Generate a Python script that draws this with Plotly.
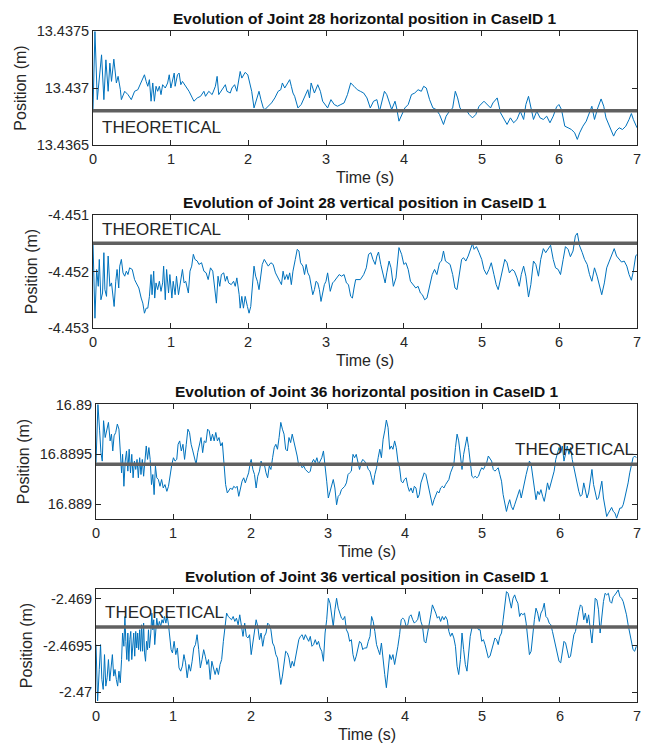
import plotly.graph_objects as go

# ---------------- DATA ----------------
TITLES = [
    "Evolution of Joint 28 horizontal position in CaseID 1",
    "Evolution of Joint 28 vertical position in CaseID 1",
    "Evolution of Joint 36 horizontal position in CaseID 1",
    "Evolution of Joint 36 vertical position in CaseID 1",
]
THEORETICAL = [13.4368, -4.4515, 16.8894, -2.469301]
THEO_LABEL = "THEORETICAL"
X_TICKS = [0, 1, 2, 3, 4, 5, 6, 7]
Y_TICKS = [[13.4365, 13.437, 13.4375], [-4.453, -4.452, -4.451],
           [16.889, 16.8895, 16.89], [-2.47, -2.4695, -2.469]]
Y_TICKTEXT = [["13.4365", "13.437", "13.4375"], ["-4.453", "-4.452", "-4.451"],
              ["16.889", "16.8895", "16.89"], ["-2.47", "-2.4695", "-2.469"]]
Y_RANGES = [[13.4365, 13.4375], [-4.453, -4.451],
            [16.88885, 16.890006], [-2.470103, -2.468894]]

# Joint 28 horizontal
T_J28H = [0.000, 0.025, 0.055, 0.110, 0.140, 0.166, 0.195, 0.217, 0.238, 0.268, 0.301, 0.323, 0.352, 0.365, 0.408,
          0.450, 0.493, 0.535, 0.577, 0.620, 0.662, 0.684, 0.705, 0.726, 0.747, 0.769, 0.790, 0.811, 0.832, 0.854,
          0.875, 0.896, 0.930, 0.960, 0.981, 1.002, 1.045, 1.057, 1.087, 1.108, 1.130, 1.151, 1.193, 1.236, 1.278,
          1.299, 1.342, 1.384, 1.427, 1.448, 1.490, 1.533, 1.575, 1.597, 1.618, 1.660, 1.703, 1.724, 1.766, 1.788,
          1.822, 1.851, 1.894, 1.915, 1.958, 1.992, 2.021, 2.042, 2.072, 2.106, 2.136, 2.161, 2.191, 2.212, 2.255,
          2.297, 2.340, 2.382, 2.416, 2.437, 2.467, 2.531, 2.552, 2.573, 2.595, 2.637, 2.679, 2.722, 2.764, 2.786,
          2.807, 2.849, 2.892, 2.926, 2.955, 3.019, 3.062, 3.104, 3.146, 3.189, 3.231, 3.274, 3.316, 3.359, 3.401,
          3.440, 3.483, 3.525, 3.568, 3.610, 3.653, 3.687, 3.716, 3.750, 3.780, 3.822, 3.843, 3.886, 3.907, 3.937,
          3.971, 4.013, 4.056, 4.098, 4.140, 4.183, 4.225, 4.255, 4.289, 4.331, 4.374, 4.416, 4.459, 4.510, 4.544,
          4.586, 4.628, 4.662, 4.692, 4.722, 4.756, 4.798, 4.841, 4.883, 4.925, 4.968, 5.031, 5.074, 5.116, 5.146,
          5.201, 5.244, 5.286, 5.328, 5.371, 5.413, 5.456, 5.498, 5.541, 5.570, 5.604, 5.638, 5.668, 5.710, 5.753,
          5.795, 5.838, 5.880, 5.922, 5.965, 5.995, 6.028, 6.071, 6.113, 6.156, 6.198, 6.232, 6.262, 6.304, 6.347,
          6.389, 6.419, 6.453, 6.495, 6.538, 6.572, 6.601, 6.644, 6.699, 6.729, 6.771, 6.813, 6.856, 6.898, 6.928,
          6.953, 7.000]
V_J28H = [13.436811, 13.437495, 13.436898, 13.437291, 13.436898, 13.437247, 13.436971, 13.437218, 13.437058,
          13.437253, 13.437044, 13.437102, 13.436985, 13.436898, 13.436971, 13.436942, 13.436898, 13.436971,
          13.436985, 13.437044, 13.437116, 13.437058, 13.437015, 13.437073, 13.436884, 13.437044, 13.436884,
          13.437015, 13.436971, 13.437015, 13.436942, 13.437029, 13.437000, 13.437044, 13.437116, 13.437000,
          13.437131, 13.437015, 13.437116, 13.437131, 13.437029, 13.437058, 13.437015, 13.436971, 13.436913,
          13.436884, 13.436913, 13.436927, 13.436971, 13.436927, 13.436971, 13.436942, 13.437015, 13.437102,
          13.436942, 13.436985, 13.437029, 13.436971, 13.436956, 13.437000, 13.437029, 13.436971, 13.437145,
          13.437087, 13.437137, 13.437116, 13.437044, 13.436971, 13.436825, 13.436898, 13.436971, 13.436898,
          13.436825, 13.436811, 13.436840, 13.436869, 13.436913, 13.436971, 13.436985, 13.437044, 13.437000,
          13.437073, 13.437015, 13.436956, 13.436927, 13.436825, 13.436855, 13.436927, 13.436985, 13.436913,
          13.437044, 13.436956, 13.437029, 13.436971, 13.436884, 13.436825, 13.436898, 13.436855, 13.436840,
          13.436855, 13.436869, 13.436942, 13.437044, 13.437015, 13.436985,
          13.436971, 13.436956, 13.436913, 13.436825, 13.436884, 13.436898, 13.436796, 13.436869, 13.436971,
          13.436942, 13.436855, 13.436811, 13.436884, 13.436825, 13.436709, 13.436767, 13.436825, 13.436855,
          13.436942, 13.436956, 13.436985, 13.436971, 13.437015, 13.437000, 13.436898, 13.436825, 13.436811,
          13.436767, 13.436680, 13.436753, 13.436796, 13.436825, 13.436971, 13.436913, 13.436825, 13.436796,
          13.436811, 13.436767, 13.436738, 13.436767, 13.436840, 13.436884, 13.436855, 13.436825, 13.436869,
          13.436913, 13.436782, 13.436724, 13.436680, 13.436738, 13.436695, 13.436724, 13.436796, 13.436724,
          13.436855, 13.436927, 13.436811, 13.436724, 13.436796, 13.436738, 13.436724, 13.436753, 13.436695,
          13.436753, 13.436834, 13.436855, 13.436811, 13.436665, 13.436651, 13.436636, 13.436607, 13.436549,
          13.436607, 13.436665, 13.436709, 13.436796, 13.436840, 13.436724, 13.436825, 13.436904, 13.436840,
          13.436738, 13.436665, 13.436578, 13.436622, 13.436651, 13.436636, 13.436665, 13.436724, 13.436776,
          13.436724, 13.436651]

# Joint 28 vertical
T_J28V = [0.000, 0.025, 0.047, 0.068, 0.081, 0.102, 0.123, 0.140, 0.153, 0.174, 0.195, 0.217, 0.238, 0.251, 0.272,
          0.293, 0.310, 0.331, 0.344, 0.365, 0.386, 0.408, 0.429, 0.450, 0.471, 0.505, 0.535, 0.556, 0.590, 0.620,
          0.641, 0.662, 0.684, 0.705, 0.726, 0.747, 0.760, 0.781, 0.794, 0.811, 0.832, 0.854, 0.875, 0.896, 0.909,
          0.930, 0.947, 0.972, 0.989, 1.015, 1.032, 1.057, 1.074, 1.100, 1.130, 1.151, 1.172, 1.193, 1.227, 1.248,
          1.270, 1.291, 1.312, 1.342, 1.363, 1.397, 1.427, 1.456, 1.482, 1.512, 1.541, 1.567, 1.588, 1.609, 1.631,
          1.652, 1.682, 1.703, 1.724, 1.745, 1.779, 1.809, 1.830, 1.851, 1.881, 1.894, 1.915, 1.936, 1.958, 1.987,
          2.008, 2.030, 2.051, 2.072, 2.093, 2.115, 2.136, 2.157, 2.178, 2.204, 2.234, 2.255, 2.289, 2.318, 2.348,
          2.374, 2.403, 2.425, 2.446, 2.467, 2.493, 2.510, 2.531, 2.552, 2.573, 2.603, 2.628, 2.650, 2.671, 2.701,
          2.722, 2.743, 2.764, 2.786, 2.807, 2.828, 2.849, 2.870, 2.892, 2.913, 2.934, 2.955, 2.977, 2.998, 3.019,
          3.053, 3.083, 3.104, 3.138, 3.168, 3.198, 3.231, 3.261, 3.287, 3.316, 3.338, 3.359, 3.380, 3.410,
          3.440, 3.483, 3.517, 3.546, 3.576, 3.602, 3.631, 3.653, 3.674, 3.703, 3.729, 3.759, 3.780, 3.810, 3.835,
          3.865, 3.899, 3.937, 3.971, 4.000, 4.026, 4.056, 4.085, 4.119, 4.153, 4.183, 4.213, 4.238, 4.268, 4.297,
          4.331, 4.365, 4.395, 4.425, 4.459, 4.484, 4.510, 4.535, 4.565, 4.595, 4.628, 4.658, 4.684, 4.713, 4.743,
          4.768, 4.798, 4.828, 4.853, 4.883, 4.904, 4.934, 4.968, 5.002, 5.031, 5.065, 5.095, 5.125, 5.159, 5.188,
          5.214, 5.244, 5.273, 5.299, 5.328, 5.358, 5.392, 5.422, 5.456, 5.485, 5.511, 5.541, 5.570, 5.604, 5.634,
          5.668, 5.698, 5.732, 5.761, 5.795, 5.825, 5.859, 5.888, 5.922, 5.952, 5.986, 6.016, 6.050, 6.079, 6.113,
          6.143, 6.177, 6.207, 6.232, 6.262, 6.296, 6.325, 6.359, 6.389, 6.419, 6.453, 6.487, 6.516, 6.546, 6.580,
          6.610, 6.644, 6.673, 6.707, 6.737, 6.771, 6.801, 6.835, 6.869, 6.898, 6.928, 6.953, 6.983, 7.000]
V_J28V = [-4.451488, -4.452827, -4.451964, -4.452262, -4.451786, -4.452500, -4.452381, -4.451667, -4.452321,
          -4.452440, -4.451726, -4.452262, -4.452202, -4.452381, -4.452619, -4.452173, -4.451964, -4.452292,
          -4.451905, -4.451786, -4.452024, -4.452083, -4.451994, -4.452054, -4.451935, -4.451964, -4.452143,
          -4.452202, -4.452292, -4.452470, -4.452560, -4.452738, -4.452649, -4.452649, -4.452440, -4.452054,
          -4.452411, -4.451994, -4.452470, -4.452202, -4.452321, -4.452173, -4.452351, -4.452202, -4.451905,
          -4.452500, -4.451964, -4.452381, -4.452054, -4.452470, -4.452173, -4.452411, -4.452083, -4.452411,
          -4.452173, -4.451964, -4.452202, -4.452173, -4.452381, -4.451994, -4.451905, -4.451696, -4.451786,
          -4.451815, -4.451875, -4.451845, -4.451994, -4.452024, -4.452143, -4.451935, -4.451994, -4.452262,
          -4.452560, -4.452083, -4.452262, -4.452054, -4.452024, -4.452173, -4.452083, -4.452202, -4.452232,
          -4.452173, -4.452262, -4.452113, -4.452411, -4.452649, -4.452440, -4.452649, -4.452440, -4.452619,
          -4.452738, -4.452619, -4.452292, -4.451905, -4.452083, -4.452173, -4.452321, -4.452054, -4.451875,
          -4.451786, -4.451845, -4.451905, -4.451845, -4.451875, -4.452024, -4.452083, -4.452173, -4.452232,
          -4.451994, -4.452143, -4.452054, -4.452143, -4.452024, -4.452232, -4.451994, -4.451786, -4.451607,
          -4.451637, -4.451845, -4.451905, -4.452054, -4.451875, -4.452024, -4.452083, -4.452262, -4.452411,
          -4.452321, -4.452173, -4.452202, -4.452321, -4.452530, -4.452411, -4.452232, -4.452173, -4.452024,
          -4.452351, -4.452202, -4.452173, -4.452113, -4.452054, -4.452083, -4.452054, -4.452202, -4.452232,
          -4.452440, -4.452470, -4.452292, -4.452143, -4.452143,
          -4.452143, -4.452054, -4.451935, -4.451696, -4.451667, -4.451786, -4.451875, -4.451726, -4.451655,
          -4.451875, -4.452024, -4.452202, -4.452024, -4.451815, -4.451935, -4.452262, -4.452113, -4.451577,
          -4.451696, -4.451875, -4.451845, -4.451964, -4.452173, -4.452232, -4.452292, -4.452262, -4.452381,
          -4.452411, -4.452500, -4.452470, -4.452262, -4.452054, -4.451964, -4.452054, -4.451845, -4.451815,
          -4.451637, -4.451815, -4.451845, -4.451875, -4.452054, -4.452292, -4.452321, -4.452024, -4.451786,
          -4.451756, -4.451815, -4.451726, -4.451607, -4.451506, -4.451607, -4.451560, -4.451667, -4.451786,
          -4.451964, -4.452054, -4.451964, -4.451845, -4.452054, -4.452232, -4.452321, -4.452143, -4.451935,
          -4.451786, -4.451845, -4.452024, -4.451964, -4.451994, -4.452113, -4.452262, -4.452054, -4.451905,
          -4.452083, -4.452452, -4.452232, -4.451815, -4.451875, -4.452083, -4.451786, -4.451595, -4.451667,
          -4.451595, -4.451536, -4.451786, -4.451935, -4.451964, -4.452054, -4.451786, -4.451560, -4.451607,
          -4.451738, -4.451637, -4.451369, -4.451321, -4.451548, -4.451667, -4.451786, -4.451875, -4.452054,
          -4.452173, -4.451935, -4.452083, -4.452262, -4.452411, -4.452202, -4.451935, -4.451815, -4.451696,
          -4.451595, -4.451726, -4.451786, -4.451833, -4.451815, -4.451905, -4.452054, -4.452155, -4.451994,
          -4.451726, -4.451696]

# Joint 36 horizontal: first part
T_J36H_A = [0.000, 0.025, 0.047, 0.064, 0.081, 0.098, 0.119, 0.140, 0.161, 0.183, 0.200, 0.217, 0.234, 0.255,
            0.276, 0.297, 0.318, 0.331, 0.344, 0.361, 0.378, 0.395, 0.412, 0.429, 0.446, 0.463, 0.480, 0.497,
            0.514, 0.531, 0.548, 0.565, 0.582, 0.599, 0.616, 0.637, 0.650, 0.667, 0.684, 0.701, 0.718, 0.735,
            0.752, 0.769, 0.786, 0.807, 0.828, 0.849, 0.870, 0.892, 0.917, 0.938, 0.960, 0.981, 1.002, 1.023,
            1.045, 1.062, 1.083, 1.104, 1.125, 1.146, 1.168, 1.189, 1.210, 1.231, 1.253, 1.274, 1.295, 1.316,
            1.338, 1.359, 1.380, 1.401, 1.423, 1.444, 1.465, 1.486, 1.507, 1.529, 1.550, 1.571, 1.592, 1.614,
            1.635, 1.656, 1.677, 1.699, 1.720, 1.741, 1.762, 1.783, 1.805, 1.826, 1.847, 1.868, 1.890, 1.911,
            1.932, 1.953, 1.975, 1.996, 2.008, 2.030, 2.051, 2.072, 2.093, 2.115, 2.136, 2.157, 2.178, 2.200,
            2.221, 2.242, 2.263, 2.285, 2.306, 2.327, 2.348, 2.369, 2.391, 2.412, 2.433, 2.454, 2.476, 2.497,
            2.518, 2.539, 2.561, 2.582, 2.603, 2.624, 2.645, 2.667, 2.688, 2.709, 2.730, 2.752, 2.773, 2.794,
            2.815, 2.837, 2.858, 2.879, 2.900, 2.921, 2.943, 2.964, 2.985, 3.006, 3.028, 3.049, 3.070, 3.091,
            3.113, 3.134, 3.155, 3.176, 3.197, 3.219, 3.240, 3.261, 3.282, 3.304, 3.325, 3.346, 3.367, 3.389,
            3.410, 3.431, 3.452, 3.473]
V_J36H_A = [16.889416, 16.890000, 16.889736, 16.889517, 16.889432, 16.889838, 16.889669, 16.889736, 16.889821,
            16.889635, 16.889703, 16.889534, 16.889686, 16.889720, 16.889804, 16.889753, 16.889500, 16.889314,
            16.889500, 16.889179, 16.889432, 16.889534, 16.889331, 16.889551, 16.889314, 16.889500, 16.889264,
            16.889432, 16.889348, 16.889449, 16.889264, 16.889466, 16.889297, 16.889449, 16.889280, 16.889483,
            16.889584, 16.889449, 16.889568, 16.889449, 16.889196, 16.889297, 16.889095, 16.889382, 16.889264,
            16.889247, 16.889179, 16.889247, 16.889162, 16.889196, 16.889128, 16.889179, 16.889314, 16.889399,
            16.889466, 16.889432, 16.889449, 16.889601, 16.889635, 16.889534, 16.889601, 16.889449, 16.889601,
            16.889753, 16.889720, 16.889601, 16.889534, 16.889449, 16.889399, 16.889517, 16.889601, 16.889669,
            16.889517, 16.889635, 16.889618, 16.889753, 16.889736, 16.889635, 16.889703, 16.889635, 16.889720,
            16.889635, 16.889669, 16.889584, 16.889618, 16.889399, 16.889196, 16.889112, 16.889145, 16.889162,
            16.889145, 16.889179, 16.889162, 16.889179, 16.889078, 16.889162, 16.889230, 16.889264, 16.889213,
            16.889264, 16.889314, 16.889416, 16.889449, 16.889348, 16.889297, 16.889162, 16.889280, 16.889331,
            16.889432, 16.889382, 16.889399, 16.889314, 16.889264, 16.889382, 16.889348, 16.889466, 16.889568,
            16.889601, 16.889551, 16.889669, 16.889821, 16.889753, 16.889703, 16.889551, 16.889534, 16.889669,
            16.889618, 16.889703, 16.889635, 16.889568, 16.889483, 16.889382, 16.889416, 16.889365, 16.889382,
            16.889348, 16.889331, 16.889314, 16.889331, 16.889416, 16.889449, 16.889416, 16.889466, 16.889399,
            16.889432, 16.889466, 16.889534, 16.889399, 16.889230, 16.889061, 16.889128, 16.889196, 16.889247,
            16.889162, 16.888993, 16.889078, 16.889095, 16.889145, 16.889162, 16.889179, 16.889213, 16.889297,
            16.889314, 16.889331, 16.889500, 16.889466, 16.889500, 16.889399, 16.889348, 16.889416, 16.889449,
            16.889432]

# shared sample times of the second part (3.5 s - 7 s) of both Joint 36 series
T_J36_B = [3.502, 3.523, 3.545, 3.566, 3.587, 3.608, 3.630, 3.651, 3.672, 3.693, 3.715, 3.736, 3.757, 3.779,
           3.800, 3.821, 3.842, 3.864, 3.885, 3.906, 3.928, 3.949, 3.970, 3.991, 4.013, 4.034, 4.055, 4.076,
           4.098, 4.119, 4.140, 4.162, 4.183, 4.204, 4.225, 4.247, 4.268, 4.289, 4.311, 4.332, 4.353, 4.374,
           4.396, 4.417, 4.438, 4.459, 4.481, 4.502, 4.523, 4.545, 4.566, 4.587, 4.608, 4.630, 4.651, 4.672,
           4.693, 4.715, 4.736, 4.757, 4.779, 4.800, 4.821, 4.842, 4.864, 4.885, 4.906, 4.928, 4.949, 4.970,
           4.991, 5.013, 5.034, 5.055, 5.076, 5.098, 5.119, 5.140, 5.162, 5.183, 5.204, 5.225, 5.247, 5.268,
           5.289, 5.311, 5.332, 5.353, 5.374, 5.396, 5.417, 5.438, 5.459, 5.481, 5.502, 5.523, 5.545, 5.566,
           5.587, 5.608, 5.630, 5.651, 5.672, 5.693, 5.715, 5.736, 5.757, 5.779, 5.800, 5.821, 5.842, 5.864,
           5.885, 5.906, 5.928, 5.949, 5.970, 5.991, 6.013, 6.034, 6.055, 6.076, 6.098, 6.119, 6.140, 6.162,
           6.183, 6.204, 6.225, 6.247, 6.268, 6.289, 6.311, 6.332, 6.353, 6.374, 6.396, 6.417, 6.438, 6.459,
           6.481, 6.502, 6.523, 6.545, 6.566, 6.587, 6.608, 6.630, 6.651, 6.672, 6.693, 6.715, 6.736, 6.757,
           6.779, 6.800, 6.821, 6.842, 6.864, 6.885, 6.906, 6.928, 6.949, 6.970, 6.991]
V_J36H_B = [16.889399, 16.889348, 16.889331, 16.889264, 16.889196, 16.889297, 16.889365, 16.889466, 16.889551,
            16.889466, 16.889652, 16.889736, 16.889845, 16.889770, 16.889551, 16.889584, 16.889551, 16.889635,
            16.889568, 16.889432, 16.889365, 16.889230, 16.889213, 16.889247, 16.889264, 16.889179, 16.889128,
            16.889162, 16.889112, 16.889179, 16.889162, 16.889061, 16.889095, 16.889213, 16.889264, 16.889314,
            16.889297, 16.889213, 16.889145, 16.889044, 16.888987, 16.889044, 16.889095, 16.889128, 16.889112,
            16.889162, 16.889179, 16.889162, 16.889196, 16.889230, 16.889247, 16.889314, 16.889348, 16.889399,
            16.889568, 16.889703, 16.889635, 16.889483, 16.889348, 16.889500, 16.889601, 16.889676, 16.889568,
            16.889399, 16.889280, 16.889264, 16.889280, 16.889264, 16.889280, 16.889331, 16.889365, 16.889348,
            16.889382, 16.889416, 16.889483, 16.889449, 16.889432, 16.889348, 16.889331, 16.889348, 16.889365,
            16.889297, 16.889230, 16.889095, 16.888993, 16.888926, 16.888993, 16.889044, 16.888976, 16.888943,
            16.888993, 16.889044, 16.889095, 16.889145, 16.889061, 16.889128, 16.889230, 16.889297, 16.889365,
            16.889432, 16.889399, 16.889297, 16.889162, 16.889044, 16.889128, 16.889095, 16.889145, 16.889078,
            16.889027, 16.889112, 16.889213, 16.889145, 16.889213, 16.889264, 16.889331, 16.889449, 16.889500,
            16.889568, 16.889517, 16.889584, 16.889432, 16.889517, 16.889584, 16.889500, 16.889568, 16.889449,
            16.889365, 16.889280, 16.889213, 16.889128, 16.889078, 16.889095, 16.889213, 16.889128, 16.889061,
            16.889112, 16.889264, 16.889348, 16.889196, 16.889112, 16.889044, 16.889061, 16.889162, 16.889230,
            16.889061, 16.888943, 16.888875, 16.888909, 16.888943, 16.888966, 16.888926, 16.888909, 16.888858,
            16.888909, 16.888960, 16.888960, 16.888993, 16.889061, 16.889128, 16.889213, 16.889314, 16.889399,
            16.889466, 16.889483, 16.889466]

# Joint 36 vertical: first part
T_J36V_A = [0.000, 0.021, 0.042, 0.059, 0.076, 0.093, 0.110, 0.127, 0.144, 0.161, 0.178, 0.195, 0.212, 0.229,
            0.246, 0.263, 0.280, 0.297, 0.314, 0.331, 0.344, 0.361, 0.374, 0.386, 0.399, 0.412, 0.425, 0.437,
            0.450, 0.463, 0.476, 0.488, 0.501, 0.514, 0.527, 0.539, 0.552, 0.565, 0.577, 0.590, 0.603, 0.616,
            0.628, 0.641, 0.654, 0.667, 0.679, 0.692, 0.709, 0.722, 0.735, 0.747, 0.760, 0.773, 0.786, 0.803,
            0.820, 0.837, 0.854, 0.870, 0.887, 0.904, 0.921, 0.938, 0.955, 0.972, 0.989, 1.011, 1.032, 1.053,
            1.074, 1.096, 1.117, 1.138, 1.159, 1.180, 1.202, 1.223, 1.244, 1.265, 1.287, 1.308, 1.329, 1.350,
            1.372, 1.393, 1.414, 1.435, 1.456, 1.478, 1.499, 1.520, 1.541, 1.563, 1.584, 1.605, 1.626, 1.648,
            1.669, 1.690, 1.711, 1.732, 1.754, 1.775, 1.796, 1.817, 1.839, 1.860, 1.881, 1.902, 1.924, 1.945,
            1.966, 1.987, 2.008, 2.030, 2.051, 2.072, 2.093, 2.115, 2.136, 2.157, 2.178, 2.200, 2.221, 2.242,
            2.263, 2.285, 2.306, 2.327, 2.348, 2.369, 2.391, 2.412, 2.433, 2.454, 2.476, 2.497, 2.518, 2.539,
            2.561, 2.582, 2.603, 2.624, 2.645, 2.667, 2.688, 2.709, 2.730, 2.752, 2.773, 2.794, 2.815, 2.837,
            2.858, 2.879, 2.900, 2.921, 2.943, 2.964, 2.985, 3.006, 3.028, 3.049, 3.070, 3.091, 3.113, 3.134,
            3.155, 3.176, 3.197, 3.219, 3.240, 3.261, 3.282, 3.304, 3.325, 3.346, 3.367, 3.389, 3.410, 3.431,
            3.452, 3.473]
V_J36V_A = [-2.469489, -2.470092, -2.469755, -2.469489, -2.469862, -2.469968, -2.469596, -2.469933, -2.469844,
            -2.469649, -2.469879, -2.469720, -2.469596, -2.469826, -2.469755, -2.469862, -2.469933, -2.469773,
            -2.469897, -2.469649, -2.469365, -2.469507, -2.469188, -2.469454, -2.469649, -2.469365, -2.469667,
            -2.469436, -2.469348, -2.469649, -2.469454, -2.469365, -2.469613, -2.469348, -2.469525, -2.469365,
            -2.469543, -2.469330, -2.469560, -2.469277, -2.469560, -2.469259, -2.469578, -2.469667, -2.469454,
            -2.469543, -2.469330, -2.469525, -2.469365, -2.469152, -2.469330, -2.469223, -2.469489, -2.469330,
            -2.469206, -2.469312, -2.469241, -2.469294, -2.469223, -2.469259, -2.469188, -2.469259, -2.469181,
            -2.469277, -2.469418, -2.469543, -2.469578, -2.469454, -2.469596, -2.469525, -2.469738, -2.469773,
            -2.469720, -2.469596, -2.469684, -2.469844, -2.469702, -2.469773, -2.469667, -2.469525, -2.469489,
            -2.469383, -2.469543, -2.469738, -2.469649, -2.469543, -2.469613, -2.469702, -2.469649, -2.469862,
            -2.469667, -2.469755, -2.469809, -2.469738, -2.469809, -2.469702, -2.469649, -2.469454, -2.469294,
            -2.469152, -2.469188, -2.469206, -2.469223, -2.469188, -2.469241, -2.469206, -2.469277, -2.469170,
            -2.469294, -2.469401, -2.469259, -2.469401, -2.469418, -2.469383, -2.469596, -2.469472, -2.469312,
            -2.469223, -2.469294, -2.469436, -2.469365, -2.469507, -2.469401, -2.469365, -2.469259, -2.469277,
            -2.469330, -2.469472, -2.469507, -2.469596, -2.469631, -2.469755, -2.469915, -2.469826, -2.469702,
            -2.469560, -2.469578, -2.469631, -2.469738, -2.469667, -2.469720, -2.469631, -2.469543, -2.469436,
            -2.469401, -2.469383, -2.469436, -2.469383, -2.469418, -2.469454, -2.469401, -2.469507, -2.469489,
            -2.469436, -2.469489, -2.469454, -2.469525, -2.469560, -2.469667, -2.469365, -2.469223, -2.468993,
            -2.469046, -2.469170, -2.469294, -2.469117, -2.468993, -2.469099, -2.469152, -2.469206, -2.469223,
            -2.469188, -2.469330, -2.469365, -2.469454, -2.469436, -2.469596, -2.469667, -2.469613, -2.469543,
            -2.469454, -2.469472, -2.469543, -2.469525]
V_J36V_B = [-2.469525, -2.469454, -2.469401, -2.469188, -2.469241, -2.469348, -2.469489, -2.469543, -2.469596,
            -2.469472, -2.469667, -2.469809, -2.469950, -2.469791, -2.469596, -2.469649, -2.469596, -2.469702,
            -2.469613, -2.469507, -2.469383, -2.469223, -2.469206, -2.469223, -2.469294, -2.469277, -2.469188,
            -2.469170, -2.469223, -2.469259, -2.469241, -2.469223, -2.469135, -2.469241, -2.469294, -2.469454,
            -2.469472, -2.469383, -2.469294, -2.469170, -2.469064, -2.469099, -2.469152, -2.469206, -2.469188,
            -2.469241, -2.469188, -2.469223, -2.469188, -2.469223, -2.469348, -2.469401, -2.469365, -2.469418,
            -2.469507, -2.469720, -2.469809, -2.469649, -2.469365, -2.469543, -2.469702, -2.469773, -2.469613,
            -2.469401, -2.469312, -2.469294, -2.469312, -2.469294, -2.469330, -2.469330, -2.469454, -2.469436,
            -2.469489, -2.469560, -2.469631, -2.469613, -2.469543, -2.469472, -2.469418, -2.469436, -2.469489,
            -2.469401, -2.469365, -2.469223, -2.469046, -2.468922, -2.468940, -2.469011, -2.469099, -2.468993,
            -2.468957, -2.469011, -2.469046, -2.469188, -2.469152, -2.469170, -2.469152, -2.469259, -2.469454,
            -2.469596, -2.469560, -2.469365, -2.469223, -2.469099, -2.469152, -2.469241, -2.469152, -2.469117,
            -2.469046, -2.469188, -2.469206, -2.469259, -2.469277, -2.469348, -2.469436, -2.469507, -2.469613,
            -2.469667, -2.469684, -2.469578, -2.469454, -2.469472, -2.469543, -2.469631, -2.469613, -2.469507,
            -2.469383, -2.469348, -2.469223, -2.469135, -2.469064, -2.469082, -2.469223, -2.469152, -2.469259,
            -2.469170, -2.469330, -2.469472, -2.469259, -2.468993, -2.469011, -2.469117, -2.469365, -2.469188,
            -2.469028, -2.468940, -2.468957, -2.468940, -2.469028, -2.469046, -2.468975, -2.468957, -2.468922,
            -2.468904, -2.468975, -2.468993, -2.469028, -2.469099, -2.469170, -2.469277, -2.469365, -2.469489,
            -2.469543, -2.469560, -2.469507]

SERIES_T = [T_J28H, T_J28V, T_J36H_A + T_J36_B, T_J36V_A + T_J36_B]
SERIES_V = [V_J28H, V_J28V, V_J36H_A + V_J36H_B, V_J36V_A + V_J36V_B]

# ---------------- STYLE / LAYOUT ----------------
PAGE_OFF = 8                      # the html page body has an 8 px margin
W, H = 649 - PAGE_OFF, 744 - PAGE_OFF
BLUE = "#0072BD"
GREY = "rgb(96,96,96)"
AXC = "#262626"
FONT = "Liberation Sans, Arial, Helvetica, sans-serif"
# axes boxes in page pixels: (left, right, top, bottom); the right edge is kept inside
# the visible area (content beyond ~641 px is not shown)
BOXES = [(93, 637, 31, 145), (93, 637, 215, 328), (96, 637, 404, 519), (96, 637, 589, 702)]
# THEORETICAL label placement (fraction of the axes box) and anchor
NOTES = [(0.013, 0.15, "left"), (0.013, 0.876, "left"), (0.998, 0.60, "right"), (0.013, 0.788, "left")]

fig = go.Figure()
layout = dict(
    width=W, height=H, margin=dict(l=0, r=0, t=0, b=0, autoexpand=False),
    paper_bgcolor="white", plot_bgcolor="white",
    showlegend=False, font=dict(family=FONT, color=AXC, size=14.5),
    annotations=[],
)
tick_font = dict(family=FONT, size=14.5, color=AXC)
label_font = dict(family=FONT, size=16, color=AXC)

for i in range(4):
    n = "" if i == 0 else str(i + 1)
    xa, ya = "x" + n, "y" + n
    l, r, t, b = [v - PAGE_OFF for v in BOXES[i]]
    fig.add_trace(go.Scatter(x=SERIES_T[i], y=SERIES_V[i], mode="lines",
                             line=dict(color=BLUE, width=1), xaxis=xa, yaxis=ya,
                             hoverinfo="skip"))
    fig.add_trace(go.Scatter(x=[X_TICKS[0], X_TICKS[-1]], y=[THEORETICAL[i], THEORETICAL[i]],
                             mode="lines", line=dict(color=GREY, width=3.5),
                             xaxis=xa, yaxis=ya, hoverinfo="skip"))
    common = dict(showline=True, linecolor=AXC, linewidth=1, mirror="ticks",
                  ticks="inside", ticklen=5, tickwidth=1, tickcolor=AXC,
                  showgrid=False, zeroline=False, automargin=False,
                  tickfont=tick_font)
    layout["xaxis" + n] = dict(common, domain=[l / W, min(r / W, 1.0)], anchor=ya,
                               range=[X_TICKS[0], X_TICKS[-1]], tickvals=X_TICKS,
                               showticklabels=False)
    layout["yaxis" + n] = dict(common, domain=[1 - b / H, 1 - t / H], anchor=xa,
                               range=Y_RANGES[i], tickvals=Y_TICKS[i], ticktext=Y_TICKTEXT[i],
                               title=dict(text="Position (m)", standoff=6, font=label_font))
    # x tick labels, placed at the tick positions
    for tv in X_TICKS:
        layout["annotations"].append(dict(
            text=str(tv), xref=xa, yref=ya + " domain", x=tv, y=0,
            xanchor="center", yanchor="top", yshift=-4, showarrow=False, font=tick_font))
    layout["annotations"].append(dict(
        text="Time (s)", xref=xa + " domain", yref=ya + " domain", x=0.5, y=0,
        xanchor="center", yanchor="top", yshift=-22, showarrow=False, font=label_font))
    layout["annotations"].append(dict(
        text="<b>" + TITLES[i] + "</b>", xref=xa + " domain", yref=ya + " domain",
        x=0.5, y=1, xanchor="center", yanchor="middle", yshift=12.5, showarrow=False,
        font=dict(family=FONT, size=15.5, color="#111111")))
    nx, ny, anc = NOTES[i]
    layout["annotations"].append(dict(
        text=THEO_LABEL, xref=xa + " domain", yref=ya + " domain",
        x=nx, y=ny, xanchor=anc, yanchor="middle", showarrow=False,
        font=dict(family=FONT, size=17, color=AXC)))

fig.update_layout(**layout)
fig.write_html("out.html")
